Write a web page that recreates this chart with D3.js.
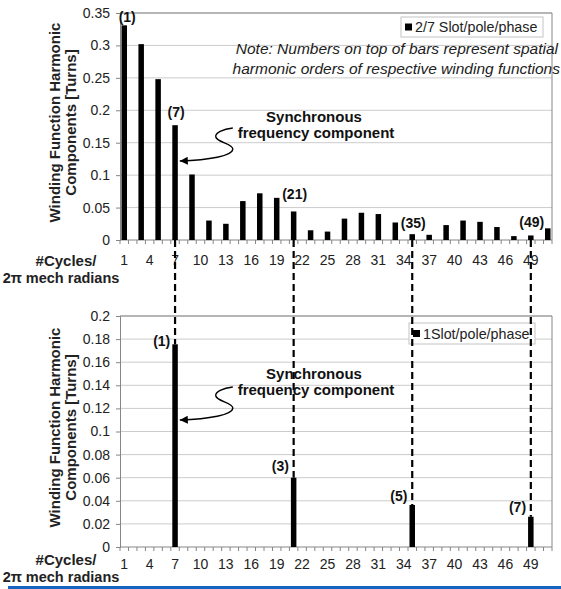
<!DOCTYPE html>
<html>
<head>
<meta charset="utf-8">
<script src="https://cdn.jsdelivr.net/npm/d3@7"></script>
<style>
  body { margin: 0; background: #fff; }
  svg { display: block; font-family: "Liberation Sans", Arial, sans-serif; }
</style>
</head>
<body>
<svg id="chart" width="561" height="589"></svg>
<script>
// Category axis: spatial harmonic order, 1..51
const categories = d3.range(1, 52);
const xTickLabels = [1, 4, 7, 10, 13, 16, 19, 22, 25, 28, 31, 34, 37, 40, 43, 46, 49];

// 2/7 slot/pole/phase winding
const topOrders = [1, 3, 5, 7, 9, 11, 13, 15, 17, 19, 21, 23, 25, 27, 29, 31, 33, 35, 37, 39, 41, 43, 45, 47, 49, 51];
const topValues = [0.331, 0.302, 0.248, 0.177, 0.101, 0.030, 0.025, 0.060, 0.072, 0.065, 0.044, 0.015, 0.013,
                   0.033, 0.042, 0.040, 0.027, 0.009, 0.008, 0.023, 0.030, 0.028, 0.020, 0.006, 0.007, 0.018];
const topLabelled = [1, 7, 21, 35, 49];
const topYTicks = [0, 0.05, 0.1, 0.15, 0.2, 0.25, 0.3, 0.35];

// 1 slot/pole/phase winding
const bottomOrders = [7, 21, 35, 49];
const bottomValues = [0.1755, 0.060, 0.0364, 0.0262];
const bottomLabels = ['(1)', '(3)', '(5)', '(7)'];
const bottomYTicks = [0, 0.02, 0.04, 0.06, 0.08, 0.1, 0.12, 0.14, 0.16, 0.18, 0.2];

// layout (not data)
const PLOT_L = 120, PLOT_R = 552;
const AXIS = '#868686', GRID = '#cccccc';
const topLabelGap = { 1: 3, 7: 8, 21: 12, 35: 6, 49: 8 };
const bottomLabelDy = [2, -7, -4, -5];

const svg = d3.select('#chart');
svg.append('rect').attr('width', 561).attr('height', 589).attr('fill', '#fff');

const x = d3.scaleBand().domain(categories).range([PLOT_L, PLOT_R]);
const bw = x.bandwidth();
const cx = d => x(d) + bw / 2;
const barW = 5.5;

const yTop = d3.scaleLinear().domain([0, 0.35]).range([240, 13]);
const yBot = d3.scaleLinear().domain([0, 0.2]).range([547, 316]);

function panel(y, yTicks, opts) {
    const g = svg.append('g');
    const [y0, y1] = y.range();

    // grid
    g.selectAll('line.grid').data(yTicks.filter(d => d > 0)).join('line')
        .attr('x1', PLOT_L).attr('x2', PLOT_R)
        .attr('y1', d => y(d)).attr('y2', d => y(d))
        .attr('stroke', GRID).attr('stroke-width', 1);

    // plot border (top/right)
    g.append('path')
        .attr('d', 'M' + PLOT_L + ',' + y1 + 'H' + PLOT_R + 'V' + y0)
        .attr('fill', 'none').attr('stroke', AXIS).attr('stroke-width', 1);

    // y axis
    const ya = g.append('g').attr('transform', 'translate(' + PLOT_L + ',0)')
        .call(d3.axisLeft(y).tickValues(yTicks).tickSize(4).tickPadding(6).tickFormat(d3.format('~g')));
    ya.select('.domain').attr('stroke', AXIS);
    ya.selectAll('.tick line').attr('stroke', AXIS);
    ya.selectAll('.tick text').attr('font-size', 14).attr('fill', '#222')
        .attr('font-family', '"Liberation Sans", Arial, sans-serif');

    // x axis
    g.append('line').attr('x1', PLOT_L).attr('x2', PLOT_R).attr('y1', y0).attr('y2', y0)
        .attr('stroke', AXIS);
    g.selectAll('line.xt').data(categories.concat(['end'])).join('line')
        .attr('x1', d => d === 'end' ? PLOT_R : x(d))
        .attr('x2', d => d === 'end' ? PLOT_R : x(d))
        .attr('y1', y0).attr('y2', y0 + 4)
        .attr('stroke', AXIS);
    g.selectAll('text.xl').data(xTickLabels).join('text')
        .attr('x', d => cx(d)).attr('y', opts.xLabelY)
        .attr('text-anchor', 'middle').attr('font-size', 14).attr('fill', '#222')
        .text(d => d);

    const xt = g.append('text').attr('text-anchor', 'middle').attr('font-size', 15)
        .attr('font-weight', 'bold').attr('fill', '#222');
    xt.append('tspan').attr('x', 66).attr('y', opts.cycY).text('#Cycles/');
    xt.append('tspan').attr('x', 61).attr('y', opts.cycY + 17).attr('font-size', 14.5).text('2\u03c0 mech radians');

    // y title
    const yc = (y0 + y1) / 2 - 4;
    const yt = g.append('text').attr('transform', 'translate(60,' + yc + ') rotate(-90)')
        .attr('text-anchor', 'middle').attr('font-size', 15).attr('font-weight', 'bold').attr('fill', '#222');
    yt.append('tspan').attr('x', 0).attr('y', 0).text('Winding Function Harmonic');
    yt.append('tspan').attr('x', 0).attr('y', 16).text('Components [Turns]');

    return g;
}

const gTop = panel(yTop, topYTicks, { xLabelY: 265, cycY: 266 });
const gBot = panel(yBot, bottomYTicks, { xLabelY: 569, cycY: 565 });

// legends
function legend(bx, by, w, h, label) {
    const g = svg.append('g');
    g.append('rect').attr('x', bx).attr('y', by).attr('width', w).attr('height', h)
        .attr('fill', '#fff').attr('stroke', '#c4c4c4');
    g.append('rect').attr('x', bx + 4).attr('y', by + h / 2 - 3.5).attr('width', 7).attr('height', 7).attr('fill', '#000');
    g.append('text').attr('x', bx + 14).attr('y', by + h / 2 + 5).attr('font-size', 14.3).attr('fill', '#222').text(label);
}
legend(401, 17, 142, 20, '2/7 Slot/pole/phase');
legend(409, 323, 126, 21, '1Slot/pole/phase');

// note
const note = svg.append('text').attr('font-size', 15.5).attr('font-style', 'italic').attr('fill', '#222')
    .attr('text-anchor', 'end');
note.append('tspan').attr('x', 558).attr('y', 54).text('Note: Numbers on top of bars represent spatial');
note.append('tspan').attr('x', 560).attr('y', 74).text('harmonic orders of respective winding functions');

// top bars
const topData = topOrders.map((o, i) => ({ o: o, v: topValues[i] }));
gTop.selectAll('rect.bar').data(topData).join('rect')
    .attr('x', d => cx(d.o) - barW / 2).attr('width', barW)
    .attr('y', d => yTop(d.v)).attr('height', d => yTop(0) - yTop(d.v))
    .attr('fill', '#000');
gTop.selectAll('text.bl').data(topData.filter(d => topLabelled.includes(d.o))).join('text')
    .attr('x', d => cx(d.o) + (d.o === 1 ? 3 : 1)).attr('y', d => yTop(d.v) - topLabelGap[d.o])
    .attr('text-anchor', 'middle').attr('font-size', 14).attr('font-weight', 'bold').attr('fill', '#111')
    .text(d => '(' + d.o + ')');

// bottom bars
const botData = bottomOrders.map((o, i) => ({ o: o, v: bottomValues[i], l: bottomLabels[i], dy: bottomLabelDy[i] }));
gBot.selectAll('rect.bar').data(botData).join('rect')
    .attr('x', d => cx(d.o) - barW / 2).attr('width', barW)
    .attr('y', d => yBot(d.v)).attr('height', d => yBot(0) - yBot(d.v))
    .attr('fill', '#000');
gBot.selectAll('text.bl').data(botData).join('text')
    .attr('x', d => cx(d.o) - barW / 2 - 2).attr('y', d => yBot(d.v) + d.dy)
    .attr('text-anchor', 'end').attr('font-size', 14).attr('font-weight', 'bold').attr('fill', '#111')
    .text(d => d.l);

// dashed links between panels
svg.selectAll('line.link').data(botData).join('line')
    .attr('x1', d => cx(d.o)).attr('x2', d => cx(d.o))
    .attr('y1', yTop(0)).attr('y2', d => yBot(d.v))
    .attr('stroke', '#000').attr('stroke-width', 2.2).attr('stroke-dasharray', '7,4');

// synchronous component annotations
svg.append('defs').append('marker')
    .attr('id', 'arr').attr('viewBox', '0 0 10 10').attr('refX', 10).attr('refY', 5)
    .attr('markerWidth', 11).attr('markerHeight', 8).attr('markerUnits', 'userSpaceOnUse')
    .attr('orient', 'auto')
    .append('path').attr('d', 'M0,0L10,5L0,10z').attr('fill', '#000');

function annot(tipY, textY) {
    const tx = cx(7) + barW / 2 + 1;
    const g = svg.append('g').attr('transform', 'translate(' + tx + ',' + tipY + ')');
    g.append('path')
        .attr('d', 'M54,-33 C44,-32 36,-28 37,-24 C38,-19 54,-17 54,-12 C54,-5 30,-1 1,0')
        .attr('fill', 'none').attr('stroke', '#000').attr('stroke-width', 1.4)
        .attr('marker-end', 'url(#arr)');
    const t = svg.append('text').attr('text-anchor', 'middle').attr('font-size', 15)
        .attr('font-weight', 'bold').attr('fill', '#111');
    t.append('tspan').attr('x', 314).attr('y', textY).text('Synchronous');
    t.append('tspan').attr('x', 316).attr('y', textY + 16).text('frequency component');
}
annot(161, 122);
annot(420, 379);

// bottom blue rule
svg.append('rect').attr('x', 8).attr('y', 586).attr('width', 553).attr('height', 3).attr('fill', '#1565c0');
</script>
</body>
</html>
